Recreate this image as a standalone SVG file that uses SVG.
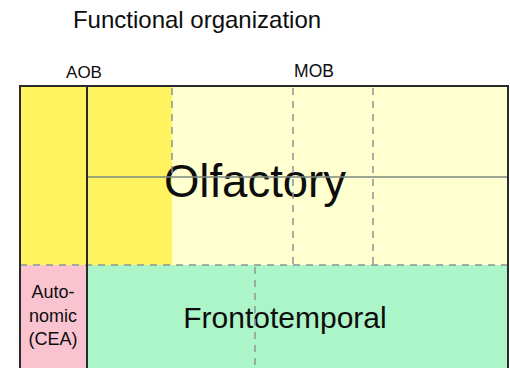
<svg xmlns="http://www.w3.org/2000/svg" width="510" height="368" viewBox="0 0 510 368">
<style>
text{font-family:"Liberation Sans",Arial,sans-serif;fill:#0d0d0d}
.solid{stroke:#2a2a2a;stroke-width:2;fill:none}
.thin{stroke:#7d8a80;stroke-width:1.5;fill:none}
.dash{stroke:#8a9694;stroke-width:1.5;stroke-dasharray:7 6;fill:none}
</style>
<rect width="510" height="368" fill="#fff"/>
<text x="197" y="28" font-size="24" text-anchor="middle">Functional organization</text>
<text x="84" y="78" font-size="17" text-anchor="middle">AOB</text>
<text x="314" y="77" font-size="17.5" text-anchor="middle">MOB</text>
<g id="olfactory">
<rect x="20" y="86" width="488" height="179" fill="#ffffd0"/>
<rect x="20" y="86" width="152" height="179" fill="#fff360"/>
<text x="255" y="197" font-size="45.5" text-anchor="middle">Olfactory</text>
</g>
<g id="autonomic">
<rect x="20" y="265" width="67" height="103" fill="#f9c4d0"/>
<text x="53" y="298" font-size="18" text-anchor="middle">Auto-</text>
<text x="53" y="322" font-size="18" text-anchor="middle">nomic</text>
<text x="53" y="345" font-size="18" text-anchor="middle">(CEA)</text>
</g>
<g id="frontotemporal">
<rect x="87" y="265" width="421" height="103" fill="#acf5c8"/>
<text x="285" y="328" font-size="30" text-anchor="middle">Frontotemporal</text>
</g>
<g id="connectors">
<line class="thin" x1="87" y1="177" x2="508" y2="177"/>
<line class="dash" x1="172" y1="88" x2="172" y2="177"/>
<line class="dash" x1="293" y1="88" x2="293" y2="265"/>
<line class="dash" x1="373" y1="88" x2="373" y2="265"/>
<line class="dash" x1="20" y1="265" x2="508" y2="265"/>
<line class="dash" x1="255" y1="267" x2="255" y2="368"/>
<polyline class="solid" points="20,368 20,86 508,86 508,368"/>
<line class="solid" x1="87" y1="86" x2="87" y2="368"/>
</g>
</svg>
